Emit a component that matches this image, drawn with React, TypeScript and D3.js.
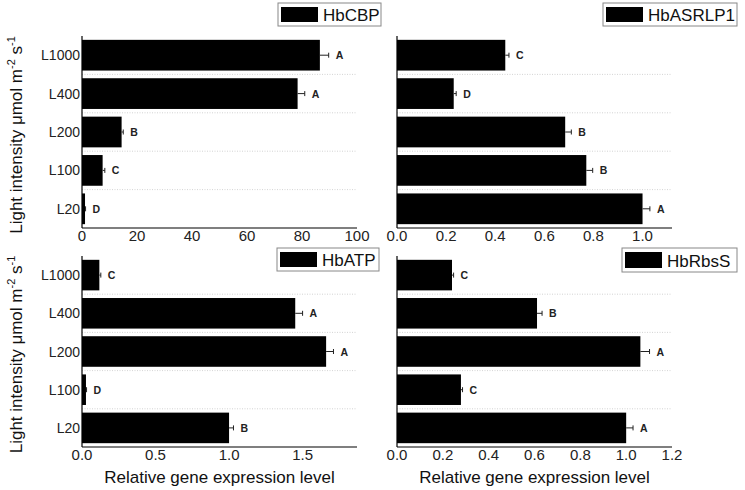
import React from "react";
import * as d3 from "d3";

const categories = ["L1000", "L400", "L200", "L100", "L20"];

const cbpValues = [86.5, 78.4, 14.4, 7.5, 1.1];
const cbpErrors = [3.2, 2.6, 0.6, 0.8, 0.2];
const cbpLetters = ["A", "A", "B", "C", "D"];
const cbpTicks = [0, 20, 40, 60, 80, 100];

const asrValues = [0.441, 0.231, 0.685, 0.771, 1.0];
const asrErrors = [0.015, 0.01, 0.025, 0.026, 0.03];
const asrLetters = ["C", "D", "B", "B", "A"];
const asrTicks = [0, 0.2, 0.4, 0.6, 0.8, 1.0];

const atpValues = [0.118, 1.45, 1.66, 0.027, 1.0];
const atpErrors = [0.01, 0.05, 0.05, 0.004, 0.03];
const atpLetters = ["C", "A", "A", "D", "B"];
const atpTicks = [0, 0.5, 1.0, 1.5];

const rbsValues = [0.24, 0.611, 1.062, 0.279, 1.0];
const rbsErrors = [0.007, 0.022, 0.04, 0.007, 0.03];
const rbsLetters = ["C", "B", "A", "C", "A"];
const rbsTicks = [0, 0.2, 0.4, 0.6, 0.8, 1.0, 1.2];

const FONT = "'Liberation Sans', Arial, sans-serif";

type PanelProps = {
  name: string;
  values: number[];
  errors: number[];
  letters: string[];
  ticks: number[];
  domainMax: number;
  fmt: (v: number) => string;
  x0: number;
  x1: number;
  y0: number;
  y1: number;
  showYLabels: boolean;
  showYTitle: boolean;
  showXTitle: boolean;
  legend: { left: number; right: number; top: number; bottom: number };
};

function Panel(p: PanelProps) {
  const x = d3.scaleLinear().domain([0, p.domainMax]).range([p.x0, p.x1]);
  const y = d3
    .scaleBand<string>()
    .domain(categories)
    .range([p.y0, p.y1])
    .paddingInner(0.2)
    .paddingOuter(0.1);
  const step = y.step();
  const bw = y.bandwidth();
  const boundaries = categories.slice(1).map((c) => (y(c) as number) - (step - bw) / 2);
  const lg = p.legend;
  const swL = lg.left + 3;
  const swR = swL + 37;
  const midY = (p.y0 + p.y1) / 2;
  return (
    <g>
      {boundaries.map((b, i) => (
        <line key={"g" + i} x1={p.x0} x2={p.x1} y1={b} y2={b} stroke="#c8c8c8" strokeWidth={0.8} strokeDasharray="1,1.5" />
      ))}
      {categories.map((c, i) => {
        const v = p.values[i];
        const e = p.errors[i];
        const yc = (y(c) as number) + bw / 2;
        const xe = x(v + e);
        return (
          <g key={c}>
            <rect x={x(0)} y={y(c) as number} width={x(v) - x(0)} height={bw} fill="#000" />
            <line x1={x(v)} x2={xe} y1={yc} y2={yc} stroke="#222" strokeWidth={1} />
            <line x1={xe} x2={xe} y1={yc - 2.5} y2={yc + 2.5} stroke="#222" strokeWidth={1} />
            <text x={Math.max(xe, x(v)) + 7} y={yc + 4} fontSize={10.5} fontWeight={600} fill="#222" fontFamily={FONT}>
              {p.letters[i]}
            </text>
            {p.showYLabels && (
              <text x={80} y={yc + 5} textAnchor="end" fontSize={14} fill="#222" fontFamily={FONT}>
                {c}
              </text>
            )}
          </g>
        );
      })}
      <line x1={p.x0} x2={p.x0} y1={p.y0} y2={p.y1} stroke="#000" strokeWidth={1.2} />
      <line x1={p.x0} x2={p.x1} y1={p.y1} y2={p.y1} stroke="#000" strokeWidth={1.2} />
      {p.ticks.map((t) => (
        <text key={"t" + t} x={x(t)} y={p.y1 + 13} textAnchor="middle" fontSize={15} fill="#222" fontFamily={FONT}>
          {p.fmt(t)}
        </text>
      ))}
      {p.showXTitle && (
        <text x={(p.x0 + p.x1) / 2} y={p.y1 + 36} textAnchor="middle" fontSize={17} fill="#111" fontFamily={FONT}>
          Relative gene expression level
        </text>
      )}
      {p.showYTitle && (
        <text
          transform={`translate(22,${midY + 3}) rotate(-90)`}
          textAnchor="middle"
          fontSize={17}
          fill="#111"
          fontFamily={FONT}
        >
          Light intensity μmol m<tspan fontSize={11} dy={-7}>-2</tspan>
          <tspan dy={7}> s</tspan>
          <tspan fontSize={11} dy={-7}>-1</tspan>
        </text>
      )}
      <rect x={lg.left} y={lg.top} width={lg.right - lg.left} height={lg.bottom - lg.top} fill="#fff" stroke="#888" strokeWidth={1} />
      <rect x={swL} y={lg.top + 4} width={swR - swL} height={lg.bottom - lg.top - 8} fill="#000" />
      <text x={swR + 5} y={lg.bottom - 5} fontSize={17} fill="#111" fontFamily={FONT}>
        {p.name}
      </text>
    </g>
  );
}

export default function App() {
  const fInt = d3.format("d");
  const f1 = d3.format(".1f");
  return (
    <svg
      width={745}
      height={490}
      style={{ position: "fixed", left: 0, top: 0, background: "#fff" }}
    >
      <rect width={745} height={490} fill="#fff" />
      <Panel
        name="HbCBP"
        values={cbpValues}
        errors={cbpErrors}
        letters={cbpLetters}
        ticks={cbpTicks}
        domainMax={100}
        fmt={fInt}
        x0={82}
        x1={357}
        y0={36}
        y1={228}
        showYLabels
        showYTitle
        showXTitle={false}
        legend={{ left: 278, right: 381, top: 3, bottom: 26 }}
      />
      <Panel
        name="HbASRLP1"
        values={asrValues}
        errors={asrErrors}
        letters={asrLetters}
        ticks={asrTicks}
        domainMax={1.12}
        fmt={f1}
        x0={397}
        x1={672}
        y0={36}
        y1={228}
        showYLabels={false}
        showYTitle={false}
        showXTitle={false}
        legend={{ left: 603, right: 737, top: 3, bottom: 26 }}
      />
      <Panel
        name="HbATP"
        values={atpValues}
        errors={atpErrors}
        letters={atpLetters}
        ticks={atpTicks}
        domainMax={1.87}
        fmt={f1}
        x0={82}
        x1={357}
        y0={256}
        y1={447}
        showYLabels
        showYTitle
        showXTitle
        legend={{ left: 277, right: 379, top: 248, bottom: 271 }}
      />
      <Panel
        name="HbRbsS"
        values={rbsValues}
        errors={rbsErrors}
        letters={rbsLetters}
        ticks={rbsTicks}
        domainMax={1.2}
        fmt={f1}
        x0={397}
        x1={672}
        y0={256}
        y1={447}
        showYLabels={false}
        showYTitle={false}
        showXTitle
        legend={{ left: 622, right: 737, top: 248, bottom: 272 }}
      />
    </svg>
  );
}
